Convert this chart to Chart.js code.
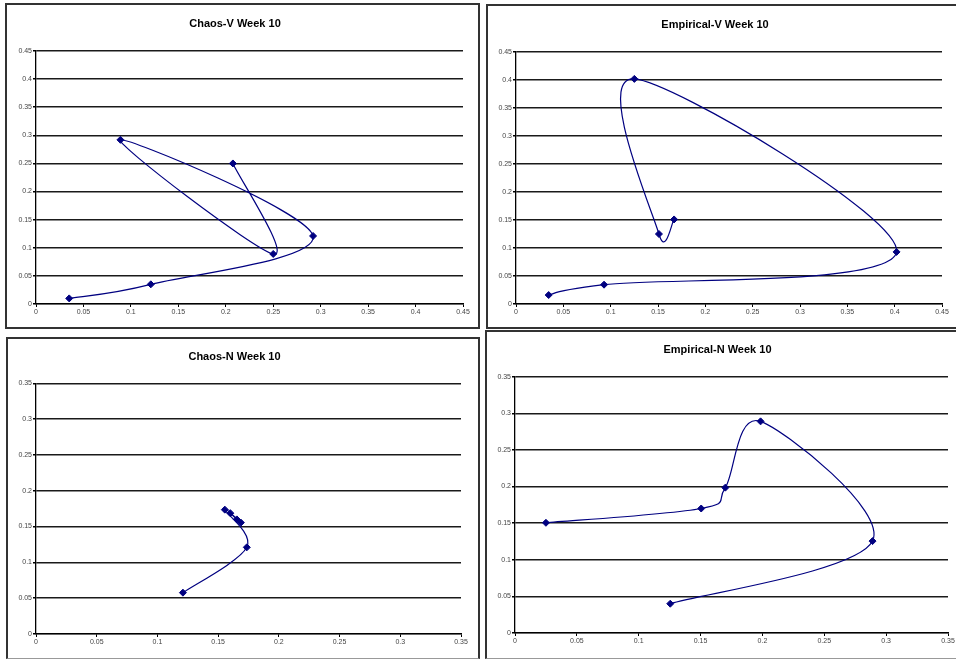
<!DOCTYPE html>
<html>
<head>
<meta charset="utf-8">
<title>Week 10 return maps</title>
<script src="https://cdn.jsdelivr.net/npm/chart.js@4.4.1/dist/chart.umd.min.js"></script>
<style>
  html, body { margin: 0; padding: 0; background: #fff; width: 956px; height: 659px; overflow: hidden; }
  body { position: relative; }
  .panel { position: absolute; box-sizing: border-box; border: 2px solid #333; background: #fff; }
  .panel canvas { display: block; }
</style>
</head>
<body>
<div class="panel" style="left:5px;top:3px;width:475px;height:326px"><canvas id="chaosV" width="471" height="322"></canvas></div>
<div class="panel" style="left:486px;top:4px;width:474px;height:325px"><canvas id="empiricalV" width="470" height="321"></canvas></div>
<div class="panel" style="left:6px;top:337px;width:474px;height:322px;border-bottom:1px solid #999"><canvas id="chaosN" width="470" height="319"></canvas></div>
<div class="panel" style="left:485px;top:330px;width:476px;height:329px;border-bottom:1px solid #999"><canvas id="empiricalN" width="472" height="326"></canvas></div>

<script>
// Week 10 series, each point is (next value, current value)
const chaosVx = [0.035, 0.121, 0.292, 0.089, 0.250, 0.2075];
const chaosVy = [0.010, 0.035, 0.121, 0.292, 0.089, 0.250];

const empiricalVx = [0.0345, 0.093, 0.402, 0.125, 0.151, 0.167];
const empiricalVy = [0.016, 0.0345, 0.093, 0.402, 0.125, 0.151];

const chaosNx = [0.121, 0.1736, 0.1555, 0.1687, 0.160, 0.1654];
const chaosNy = [0.0577, 0.121, 0.1736, 0.1555, 0.1687, 0.160];

const empiricalNx = [0.1255, 0.289, 0.1985, 0.170, 0.1505, 0.025];
const empiricalNy = [0.040, 0.1255, 0.289, 0.1985, 0.170, 0.1505];

// Axis ranges
const axisMaxV = 0.45;
const axisMaxN = 0.35;
const tickStep = 0.05;

const titleChaosV = 'Chaos-V Week 10';
const titleEmpiricalV = 'Empirical-V Week 10';
const titleChaosN = 'Chaos-N Week 10';
const titleEmpiricalN = 'Empirical-N Week 10';

const NAVY = '#000080';
const FONT = "'Liberation Sans', Arial, sans-serif";

// Spreadsheet-style smoothing: each control point sits 1/6 of the
// neighbour-to-neighbour vector away from the point the scales placed.
const sheetSmooth = {
  id: 'sheetSmooth',
  beforeDatasetDraw(chart, args) {
    const meta = args.meta;
    const pts = meta.data;
    const n = pts.length;
    for (let i = 0; i < n; i++) {
      const p = pts[i];
      const prev = pts[Math.max(i - 1, 0)];
      const next = pts[Math.min(i + 1, n - 1)];
      const dx = (next.x - prev.x) / 6;
      const dy = (next.y - prev.y) / 6;
      p.cp1x = p.x - dx; p.cp1y = p.y - dy;
      p.cp2x = p.x + dx; p.cp2y = p.y + dy;
    }
    if (meta.dataset) meta.dataset._pointsUpdated = true;
  }
};

function tickLabel(v) { return String(+v.toFixed(2)); }

function makeChart(id, title, xs, ys, maxVal, box) {
  const points = xs.map((x, i) => ({ x: x, y: ys[i] }));
  const tickFont = { family: FONT, size: 7 };
  return new Chart(document.getElementById(id), {
    type: 'scatter',
    data: {
      datasets: [{
        data: points,
        showLine: true,
        tension: 0.4,
        fill: false,
        borderColor: NAVY,
        borderWidth: 1.2,
        pointStyle: 'rectRot',
        pointRadius: 3.5,
        pointHoverRadius: 3.5,
        pointBorderWidth: 1,
        pointBackgroundColor: NAVY,
        pointBorderColor: NAVY
      }]
    },
    options: {
      responsive: false,
      animation: false,
      events: [],
      layout: { padding: { left: 0, top: 0, right: box.right, bottom: 0 } },
      plugins: {
        legend: { display: false },
        tooltip: { enabled: false },
        title: {
          display: true,
          text: title,
          color: '#000',
          font: { family: FONT, size: 11, weight: 'bold', lineHeight: 1.2 },
          padding: { top: box.titleTop, bottom: box.titleBottom }
        }
      },
      scales: {
        x: {
          type: 'linear',
          min: 0,
          max: maxVal,
          ticks: { stepSize: tickStep, autoSkip: false, maxRotation: 0, font: tickFont, color: '#444', padding: 1, callback: tickLabel },
          grid: { display: true, drawOnChartArea: false, drawTicks: true, tickLength: 3, tickColor: '#000', tickWidth: 1 },
          border: { display: true, color: '#000', width: 1.3 },
          afterFit(scale) { scale.height = box.xHeight; }
        },
        y: {
          type: 'linear',
          min: 0,
          max: maxVal,
          ticks: { stepSize: tickStep, autoSkip: false, font: tickFont, color: '#444', padding: 1, callback: tickLabel },
          grid: { display: true, drawOnChartArea: true, drawTicks: true, tickLength: 3, color: '#1a1a1a', lineWidth: 1.5, tickColor: '#000' },
          border: { display: true, color: '#000', width: 1.3 },
          afterFit(scale) { scale.width = box.yWidth; }
        }
      }
    },
    plugins: [sheetSmooth]
  });
}

makeChart('chaosV', titleChaosV, chaosVx, chaosVy, axisMaxV,
  { yWidth: 29, right: 15, titleTop: 12.4, titleBottom: 20.4, xHeight: 23 });
makeChart('empiricalV', titleEmpiricalV, empiricalVx, empiricalVy, axisMaxV,
  { yWidth: 28, right: 16, titleTop: 12.7, titleBottom: 20.1, xHeight: 23 });
makeChart('chaosN', titleChaosN, chaosNx, chaosNy, axisMaxN,
  { yWidth: 28, right: 17, titleTop: 11.7, titleBottom: 19.4, xHeight: 24 });
makeChart('empiricalN', titleEmpiricalN, empiricalNx, empiricalNy, axisMaxN,
  { yWidth: 28, right: 11, titleTop: 11.4, titleBottom: 20.1, xHeight: 25 });
</script>
</body>
</html>
